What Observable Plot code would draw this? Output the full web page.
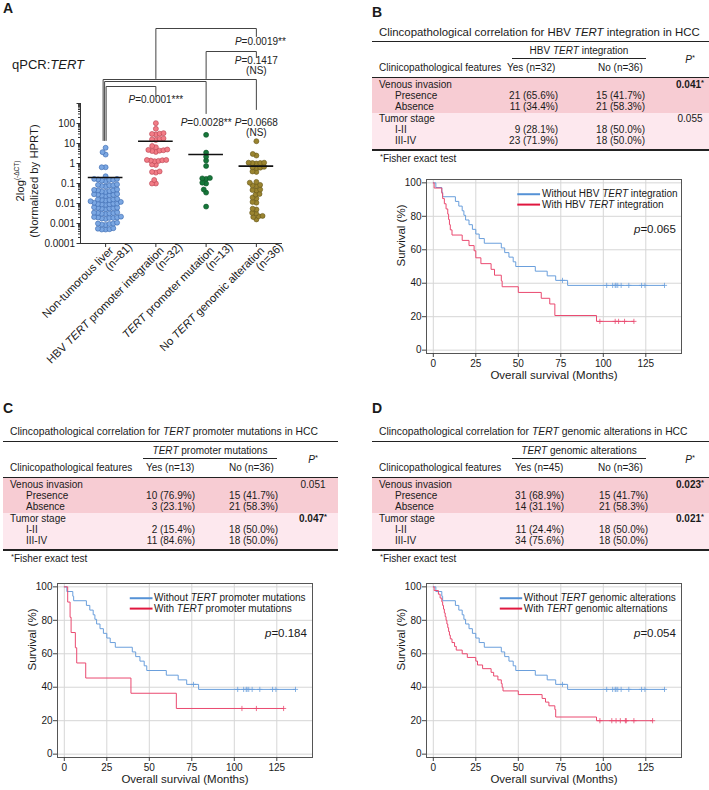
<!DOCTYPE html>
<html><head><meta charset="utf-8">
<script src="https://cdn.jsdelivr.net/npm/d3@7"></script>
<script src="https://cdn.jsdelivr.net/npm/@observablehq/plot@0.6"></script>
<style>
html,body{margin:0;padding:0;background:#fff;overflow:hidden;}
#page{position:relative;width:709px;height:790px;font-family:"Liberation Sans",Arial,Helvetica,sans-serif;color:#1a1a1a;}
.abs{position:absolute;white-space:nowrap;}
.sup{font-size:7.5px;position:relative;top:-3px;}
</style></head><body><div id="page"></div>
<script>
// ---------------- DATA ----------------
// Panel A: qPCR TERT expression per group
const groups = ["Non-tumorous liver", "HBV _TERT_ promoter integration", "_TERT_ promoter mutation", "No _TERT_ genomic alteration"];
const groupN = [81, 32, 13, 36];
const nonTumorous = [6.1, 3.7, 2.8, 0.65, 0.65, 0.23,
  0.17, 0.16, 0.15, 0.14, 0.15, 0.13, 0.17,
  0.085, 0.08, 0.075, 0.09, 0.07, 0.08,
  0.05, 0.045, 0.04, 0.048, 0.042, 0.038, 0.046,
  0.028, 0.025, 0.03, 0.026, 0.024, 0.029, 0.027,
  0.016, 0.014, 0.015, 0.017, 0.013, 0.015, 0.016,
  0.012, 0.01, 0.009, 0.0095, 0.011, 0.0088, 0.0098, 0.0092,
  0.006, 0.0055, 0.0058, 0.0062, 0.0052, 0.0057, 0.0065,
  0.0035, 0.0032, 0.0034, 0.003, 0.0036, 0.0031, 0.0033,
  0.002, 0.0018, 0.0019, 0.0021, 0.0017, 0.002, 0.0019, 0.0022,
  0.001, 0.0009, 0.00095, 0.0011, 0.00085, 0.001,
  0.00055, 0.0005, 0.00052, 0.00058, 0.0005];
const hbvIntegration = [104, 54, 33, 31, 30, 28, 18, 17, 16, 15, 7.5, 6.5, 5, 4.8, 4.6, 4.4, 4.2, 3.8,
  1.5, 1.4, 1.45, 1.35, 1.5, 1.3, 0.9, 0.85, 0.4, 0.38, 0.35, 0.15, 0.1, 0.1];
const promoterMutation = [27, 3.5, 2.2, 1.4, 0.75, 0.19, 0.18, 0.17, 0.11, 0.1, 0.05, 0.035, 0.007];
const noAlteration = [13, 3.0, 2.5, 1.1, 1.05, 1.0, 1.05, 1.1, 0.65, 0.62, 0.6, 0.68, 0.4, 0.38,
  0.12, 0.11, 0.08, 0.075, 0.085, 0.05, 0.047, 0.045, 0.03, 0.028, 0.02, 0.018, 0.012, 0.011,
  0.0055, 0.005, 0.0034, 0.0032, 0.0023, 0.0021, 0.0024, 0.0016];
const groupMeans = [0.2, 13, 2.8, 0.74];
const yTicksMajor = [0.0001, 0.001, 0.01, 0.1, 1, 10, 100];
const compA = [1, 2, 0, 0, 0];
const compB = [3, 3, 3, 2, 1];
const compP = ["_P_=0.0019**", "_P_=0.1417\n(NS)", "_P_=0.0668\n(NS)", "_P_=0.0028**", "_P_=0.0001***"];

// Tables
const featureRows = ["Venous invasion", "Presence", "Absence", "Tumor stage", "I-II", "III-IV"];
const hbvYes = ["", "21 (65.6%)", "11 (34.4%)", "", "9 (28.1%)", "23 (71.9%)"];
const hbvNo = ["", "15 (41.7%)", "21 (58.3%)", "", "18 (50.0%)", "18 (50.0%)"];
const hbvP = ["0.041*", "", "", "0.055", "", ""];
const promYes = ["", "10 (76.9%)", "3 (23.1%)", "", "2 (15.4%)", "11 (84.6%)"];
const promNo = ["", "15 (41.7%)", "21 (58.3%)", "", "18 (50.0%)", "18 (50.0%)"];
const promP = ["0.051", "", "", "0.047*", "", ""];
const altYes = ["", "31 (68.9%)", "14 (31.1%)", "", "11 (24.4%)", "34 (75.6%)"];
const altNo = ["", "15 (41.7%)", "21 (58.3%)", "", "18 (50.0%)", "18 (50.0%)"];
const altP = ["0.023*", "", "", "0.021*", "", ""];

// Kaplan-Meier curves
const kmTicksX = [0, 25, 50, 75, 100, 125];
const kmTicksY = [0, 20, 40, 60, 80, 100];
const noAltTime = [0, 1.5, 5, 5.5, 13, 15, 17, 18, 19, 21, 23, 25, 27, 30, 40, 42, 44.5, 47, 48.5, 60, 67, 72, 79, 136];
const noAltSurv = [100, 97.2, 94.4, 91.7, 88.9, 86.1, 83.3, 80.6, 77.8, 75.0, 72.2, 69.4, 66.7, 63.9, 61.1, 58.3, 55.6, 52.8, 50.0, 47.2, 44.4, 41.7, 38.7, 38.7];
const noAltCensTime = [76, 102, 105.5, 107, 107.5, 108.5, 110.5, 115, 122.5, 124.5, 136];
const noAltCensSurv = [41.7, 38.7, 38.7, 38.7, 38.7, 38.7, 38.7, 38.7, 38.7, 38.7, 38.7];
const hbvTime = [0, 0.5, 5, 5.5, 6.5, 7.5, 8.5, 9, 9.5, 10, 11, 17, 21, 24, 25, 28, 34, 36, 40, 40.5, 50, 63.5, 68.5, 71.5, 96, 118];
const hbvSurv = [100, 96.9, 93.8, 90.6, 87.5, 84.4, 81.3, 78.1, 75.0, 71.9, 68.8, 65.6, 62.5, 59.4, 55.2, 51.7, 48.3, 44.8, 41.4, 37.9, 34.5, 31.0, 27.6, 20.7, 17.2, 17.2];
const hbvCensTime = [98, 107, 109, 112.5, 118];
const hbvCensSurv = [17.2, 17.2, 17.2, 17.2, 17.2];
const promTime = [0, 2, 3.4, 4, 6.5, 7.3, 12.6, 39.2, 65.9, 129];
const promSurv = [100, 90.9, 81.8, 72.7, 63.6, 54.5, 45.5, 36.4, 27.3, 27.3];
const promCensTime = [104.5, 113, 129];
const promCensSurv = [27.3, 27.3, 27.3];
const altTime = [0, 0.5, 3, 4, 5, 5.5, 6, 6.5, 7, 7.5, 8, 8.5, 9, 9.5, 10, 11, 12.5, 13.5, 17, 20, 25, 26, 29, 34, 35.5, 38, 40, 40.5, 41, 50, 64, 66, 68, 71.5, 72, 96, 129];
const altSurv = [100, 97.8, 95.6, 93.3, 91.1, 88.9, 86.7, 84.4, 82.2, 80.0, 77.8, 75.6, 73.3, 71.1, 68.9, 66.7, 64.4, 62.2, 60.0, 57.8, 55.6, 53.3, 51.1, 48.9, 46.7, 44.4, 42.2, 40.0, 37.8, 35.6, 33.3, 31.1, 28.9, 26.7, 22.2, 20.0, 20.0];
const altCensTime = [98, 105, 107.5, 110, 113, 113.5, 118, 129];
const altCensSurv = [20, 20, 20, 20, 20, 20, 20, 20];

// ---------------- HELPERS ----------------
const FONT = '"Liberation Sans", Arial, Helvetica, sans-serif';
const page = document.getElementById("page");

function txt(html, x, cy, {size = 10, anchor = "start", bold = false, lh = 12} = {}) {
  const d = document.createElement("div");
  d.className = "abs";
  d.innerHTML = html;
  d.style.fontSize = size + "px";
  d.style.lineHeight = lh + "px";
  d.style.height = lh + "px";
  d.style.left = x + "px";
  d.style.top = (cy - lh / 2) + "px";
  if (bold) d.style.fontWeight = "bold";
  if (anchor === "end") d.style.transform = "translateX(-100%)";
  if (anchor === "middle") d.style.transform = "translateX(-50%)";
  page.appendChild(d);
  return d;
}
function box(x, y, w, h, color) {
  const d = document.createElement("div");
  d.className = "abs";
  Object.assign(d.style, {left: x + "px", top: y + "px", width: w + "px", height: h + "px", background: color});
  page.appendChild(d);
}
function richify(root) {
  const ns = "http://www.w3.org/2000/svg";
  const walker = document.createTreeWalker(root, NodeFilter.SHOW_TEXT);
  const nodes = [];
  while (walker.nextNode()) nodes.push(walker.currentNode);
  for (const node of nodes) {
    const s = node.nodeValue;
    if (!/[_^]/.test(s)) continue;
    const parts = s.split(/(_[^_]+_|\^[^^]+\^)/);
    const frag = document.createDocumentFragment();
    for (const p of parts) {
      if (!p) continue;
      if (p.length > 2 && p[0] === "_" && p[p.length - 1] === "_") {
        const t = document.createElementNS(ns, "tspan");
        t.setAttribute("font-style", "italic");
        t.textContent = p.slice(1, -1);
        frag.appendChild(t);
      } else if (p.length > 2 && p[0] === "^" && p[p.length - 1] === "^") {
        const t = document.createElementNS(ns, "tspan");
        t.setAttribute("font-size", "0.6em");
        t.setAttribute("baseline-shift", "super");
        t.textContent = p.slice(1, -1);
        frag.appendChild(t);
      } else frag.appendChild(document.createTextNode(p));
    }
    node.parentNode.replaceChild(frag, node);
  }
}
function mount(svg, left, top) {
  svg.style.position = "absolute";
  svg.style.left = left + "px";
  svg.style.top = top + "px";
  svg.style.background = "transparent";
  svg.style.overflow = "visible";
  richify(svg);
  page.appendChild(svg);
}

// ---------------- PANEL LETTERS & TITLES ----------------
const letter = (s, x, y) => txt(s, x, y, {size: 14, bold: true, lh: 14});
letter("A", 3, 8);
letter("B", 372, 12);
letter("C", 3, 408);
letter("D", 372, 408);
txt("qPCR:<i>TERT</i>", 12, 65, {size: 13, lh: 14});
// rotated y-axis title of panel A
const yl = document.createElement("div");
yl.className = "abs";
Object.assign(yl.style, {left: (26 - 70) + "px", top: (181 - 12) + "px", width: "140px", height: "24px",
  lineHeight: "12px", fontSize: "11.3px", textAlign: "center", transform: "rotate(-90deg)"});
yl.innerHTML = '2log<span style="font-size:6.5px;position:relative;top:-5px">(-ΔCT)</span><br>(Normalized by HPRT)';
page.appendChild(yl);

// ---------------- PANEL A ----------------
const W_A = 350, H_A = 383, mA = {l: 80, r: 68, t: 20, b: 140};
const xDomA = [-0.5, 3.52], yDomA = [1e-4, 10 ** 7.15];
const ypx = d3.scaleLog(yDomA, [H_A - mA.b, mA.t]);
const pxPerUnit = (W_A - mA.l - mA.r) / (xDomA[1] - xDomA[0]);
const dotR = 2.5, dotGap = 3.9;
function swarm(values) {
  const d = dotGap;
  const sorted = values.map(v => ({v, py: ypx(v)})).sort((a, b) => b.py - a.py);
  const placed = [];
  for (const p of sorted) {
    const iv = [];
    for (const q of placed) {
      const dy = Math.abs(q.py - p.py);
      if (dy < d) { const h = Math.sqrt(d * d - dy * dy); iv.push([q.px - h, q.px + h]); }
    }
    let c = [0];
    for (const [a, b] of iv) c.push(a, b);
    c = c.filter(x => iv.every(([a, b]) => x <= a + 1e-6 || x >= b - 1e-6));
    c.sort((a, b) => Math.abs(a) - Math.abs(b) || a - b);
    placed.push({v: p.v, py: p.py, px: c[0]});
  }
  return placed;
}
const groupValues = [nonTumorous, hbvIntegration, promoterMutation, noAlteration];
const points = groupValues.flatMap((vals, gi) => swarm(vals).map(p => ({g: gi, v: p.v, x: gi + p.px / pxPerUnit})));
const dotFill = ["#7ba7e2", "#f27c86", "#16773a", "#9a8430"];
const dotStroke = ["#3565ad", "#b7404f", "#0b4f25", "#64561a"];

const minorTicks = [];
for (let e = -4; e <= 2; e++) for (let k = 2; k <= 9; k++) minorTicks.push(k * 10 ** e);

// bracket layout (log10 heights, pixel offsets for nested legs)
const brTop = [6.75, 5.6, 4.2, 4.1, 3.85];
const brLegA = [4.25, 4.25, 1.15, 1.15, 1.15];
const brLegB = [6.35, 5.3, 2.7, 2.5, 3.35];
const brAoff = [0, 0, -2.5, -1, 0.5];
const brText = [6.25, 5.3, 2.2, 2.2, 3.35];
const brTextOff = [4, 0, 0, 0, 0];

const bracketMarks = compA.map((a, k) => {
  const ax = a + brAoff[k] / pxPerUnit, bx = compB[k];
  return Plot.line([
    {x: ax, y: 10 ** brLegA[k]}, {x: ax, y: 10 ** brTop[k]},
    {x: bx, y: 10 ** brTop[k]}, {x: bx, y: 10 ** brLegB[k]}
  ], {x: "x", y: "y", stroke: "#444", strokeWidth: 1});
});
const pLabelData = compP.map((p, k) => ({x: compB[k] + brTextOff[k] / pxPerUnit, y: 10 ** brText[k], t: p}));
const pad = "\u00A0".repeat(5);

const plotA = Plot.plot({
  width: W_A, height: H_A,
  marginLeft: mA.l, marginRight: mA.r, marginTop: mA.t, marginBottom: mA.b,
  x: {type: "linear", domain: xDomA, axis: null},
  y: {type: "log", domain: yDomA, axis: null},
  style: {fontFamily: FONT, color: "#1a1a1a"},
  marks: [
    Plot.ruleY([1e-4], {stroke: "#333"}),
    Plot.ruleX([xDomA[0]], {y1: 1e-4, y2: 1000, stroke: "#333"}),
    Plot.axisY({ticks: minorTicks, tickSize: 2, tickFormat: () => "", label: null, stroke: "#333"}),
    Plot.axisY({ticks: [...yTicksMajor, 1000], tickSize: 3.5, tickPadding: 2, fontSize: 10, label: null,
      tickFormat: d => d > 100 ? "" : String(d), stroke: "#333"}),
    Plot.axisX({ticks: [0, 1, 2, 3], tickSize: 4, tickFormat: () => "", label: null, stroke: "#333"}),
    Plot.axisX({ticks: [0, 1, 2, 3], tickFormat: i => `${groups[i]}${pad}\n(n=${groupN[i]})`, tickRotate: -45,
      tickSize: 0, tickPadding: 7, dx: 21, dy: -9, fontSize: 11.3, lineHeight: 0.95, label: null}),
    ...bracketMarks,
    Plot.text(pLabelData, {x: "x", y: "y", text: "t", lineAnchor: "top", fontSize: 10, lineHeight: 0.95, fill: "#222"}),
    Plot.dot(points, {x: "x", y: "v", r: dotR, fill: d => dotFill[d.g], stroke: d => dotStroke[d.g], strokeWidth: 0.6}),
    Plot.ruleY(groupMeans.map((m, i) => ({i, m})), {y: "m", x1: d => d.i - 0.345, x2: d => d.i + 0.345, stroke: "#111", strokeWidth: 1.6})
  ]
});
mount(plotA, 0, 0);

// ---------------- TABLES ----------------
const rowY = [53, 64.3, 75.6, 86.8, 98, 109.2];
function table(cfg) {
  const {L, T, W, title, titleSize, group, yes, no, yesVals, noVals, pVals, yesHead, yesRight, noRight, pCenter} = cfg;
  box(L, T + 45.8, W, 35.8, "#f7ccd3");
  box(L, T + 81.6, W, 36.4, "#fde8ee");
  txt(title, L + 7, T, {size: titleSize});
  box(L, T + 9, W, 1.6, "#222");
  txt(group, L + 207, T + 19.5, {anchor: "middle"});
  box(L + 140, T + 26.5, 134, 1.2, "#222");
  txt("Clinicopathological features", L + 7, T + 36.5);
  txt(yes, L + yesHead, T + 36.5);
  txt(no, L + 226, T + 36.5);
  txt('<i>P</i><span class="sup">*</span>', L + pCenter, T + 28, {anchor: "middle"});
  box(L, T + 45, W, 1, "#222");
  featureRows.forEach((f, i) => {
    const cy = T + rowY[i];
    const main = i === 0 || i === 3;
    txt(f, L + (main ? 7 : 23), cy);
    if (yesVals[i]) txt(yesVals[i], L + yesRight, cy, {anchor: "end"});
    if (noVals[i]) txt(noVals[i], L + noRight, cy, {anchor: "end"});
    if (pVals[i]) {
      const star = pVals[i].endsWith("*");
      const html = star ? pVals[i].slice(0, -1) + '<span class="sup">*</span>' : pVals[i];
      txt(html, L + pCenter, cy, {anchor: "middle", bold: star});
    }
  });
  box(L, T + 117.6, W, 1.6, "#222");
  txt('<span class="sup">*</span>Fisher exact test', L + 8, T + 127);
}
table({L: 372, T: 31.7, W: 337, title: "Clincopathological correlation for HBV <i>TERT</i> integration in HCC", titleSize: 11.4,
  group: "HBV <i>TERT</i> integration", yes: "Yes (n=32)", no: "No (n=36)",
  yesVals: hbvYes, noVals: hbvNo, pVals: hbvP, yesHead: 135, yesRight: 186, noRight: 273, pCenter: 318});
table({L: 3, T: 431.7, W: 335, title: "Clincopathological correlation for <i>TERT</i> promoter mutations in HCC", titleSize: 10.35,
  group: "<i>TERT</i> promoter mutations", yes: "Yes (n=13)", no: "No (n=36)",
  yesVals: promYes, noVals: promNo, pVals: promP, yesHead: 143, yesRight: 192, noRight: 275, pCenter: 310});
table({L: 372, T: 431.7, W: 337, title: "Clincopathological correlation for <i>TERT</i> genomic alterations in HCC", titleSize: 10.35,
  group: "<i>TERT</i> genomic alterations", yes: "Yes (n=45)", no: "No (n=36)",
  yesVals: altYes, noVals: altNo, pVals: altP, yesHead: 143, yesRight: 192, noRight: 276, pCenter: 318});

// ---------------- KM PLOTS ----------------
const BLUE = "#6a9fdc", RED = "#ea4a70", BLUE_L = "#5592d6", RED_L = "#e0173f";
const zip = (t, s) => t.map((x, i) => ({t: x, s: s[i]}));
function km(cfg) {
  const blue = zip(noAltTime, noAltSurv), blueC = zip(noAltCensTime, noAltCensSurv);
  const red = zip(cfg.time, cfg.surv), redC = zip(cfg.censTime, cfg.censSurv);
  const [lx1, lx2, tx] = cfg.legendX;
  return Plot.plot({
    width: 330, height: 216, marginLeft: 50, marginRight: 25, marginTop: 10, marginBottom: 32,
    x: {domain: [-4, 146], axis: null},
    y: {domain: [-2, 102], axis: null},
    style: {fontFamily: FONT, color: "#1a1a1a"},
    marks: [
      Plot.gridX(kmTicksX, {stroke: "#d6d6d6", strokeOpacity: 1}),
      Plot.gridY(kmTicksY, {stroke: "#d6d6d6", strokeOpacity: 1}),
      Plot.frame({stroke: "#555"}),
      Plot.axisX({ticks: kmTicksX, tickSize: 4, tickPadding: 2, fontSize: 10, label: null, stroke: "#444"}),
      Plot.axisY({ticks: kmTicksY, tickSize: 4, tickPadding: 1, fontSize: 10, label: null, stroke: "#444"}),
      Plot.line(blue, {x: "t", y: "s", curve: "step-after", stroke: BLUE, strokeWidth: 1}),
      Plot.line(red, {x: "t", y: "s", curve: "step-after", stroke: RED, strokeWidth: 1}),
      Plot.dot(blueC, {x: "t", y: "s", symbol: "plus", r: 1.8, stroke: BLUE, strokeWidth: 0.8}),
      Plot.dot(redC, {x: "t", y: "s", symbol: "plus", r: 1.8, stroke: RED, strokeWidth: 0.8}),
      Plot.ruleY([93.2], {x1: lx1, x2: lx2, stroke: BLUE_L, strokeWidth: 2}),
      Plot.ruleY([87], {x1: lx1, x2: lx2, stroke: RED_L, strokeWidth: 2}),
      Plot.text([cfg.legend[0]], {x: tx, y: 93.2, textAnchor: "start", fontSize: 10}),
      Plot.text([cfg.legend[1]], {x: tx, y: 87, textAnchor: "start", fontSize: 10}),
      Plot.text([cfg.p], {x: 142.7, y: 72, textAnchor: "end", fontSize: 11.5}),
      Plot.text(["Overall survival (Months)"], {frameAnchor: "bottom", dy: 25, fontSize: 11.5}),
      Plot.text(["Survival (%)"], {frameAnchor: "left", rotate: -90, dx: -25, fontSize: 11.5})
    ]
  });
}
mount(km({time: hbvTime, surv: hbvSurv, censTime: hbvCensTime, censSurv: hbvCensSurv,
  legend: ["Without HBV _TERT_ integration", "With HBV _TERT_ integration"], p: "_p_=0.065",
  legendX: [49.7, 63.1, 64]}), 376, 169);
mount(km({time: promTime, surv: promSurv, censTime: promCensTime, censSurv: promCensSurv,
  legend: ["Without _TERT_ promoter mutations", "With _TERT_ promoter mutations"], p: "_p_=0.184",
  legendX: [38.8, 52.2, 52.8]}), 7, 573);
mount(km({time: altTime, surv: altSurv, censTime: altCensTime, censSurv: altCensSurv,
  legend: ["Without _TERT_ genomic alterations", "With _TERT_ genomic alternations"], p: "_p_=0.054",
  legendX: [39.4, 52.6, 53.2]}), 376, 573);
</script></body></html>
